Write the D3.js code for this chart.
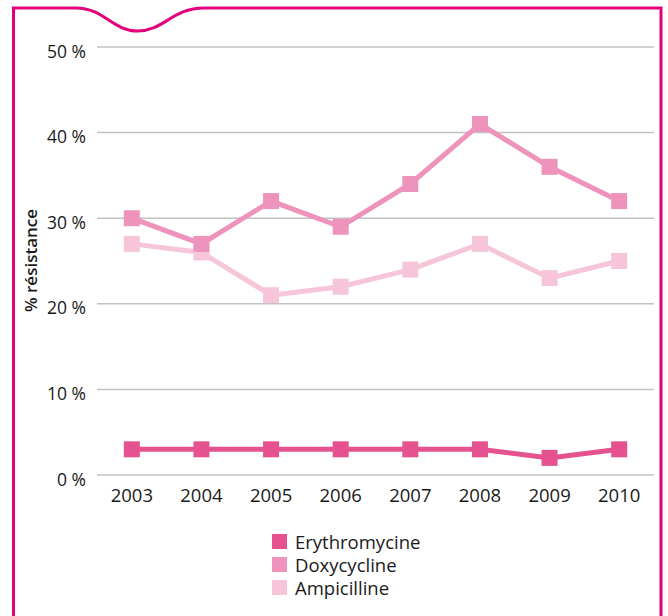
<!DOCTYPE html>
<html>
<head>
<meta charset="utf-8">
<script src="https://cdn.jsdelivr.net/npm/d3@7"></script>
<style>
  html, body { margin: 0; padding: 0; background: #fff; }
  svg { display: block; }
  text { font-family: "Open Sans", "Noto Sans", sans-serif; fill: #1a1a1a; }
</style>
</head>
<body>
<svg id="chart" width="668" height="616"></svg>
<script>
const years = ["2003", "2004", "2005", "2006", "2007", "2008", "2009", "2010"];
const erythromycine = [3, 3, 3, 3, 3, 3, 2, 3];
const doxycycline = [30, 27, 32, 29, 34, 41, 36, 32];
const ampicilline = [27, 26, 21, 22, 24, 27, 23, 25];
const yTicks = [0, 10, 20, 30, 40, 50];
const seriesNames = ["Erythromycine", "Doxycycline", "Ampicilline"];
const seriesColors = ["#e6528f", "#ee93bc", "#f6c5da"];

const series = [
  { name: seriesNames[0], values: erythromycine, color: seriesColors[0] },
  { name: seriesNames[1], values: doxycycline, color: seriesColors[1] },
  { name: seriesNames[2], values: ampicilline, color: seriesColors[2] }
];

const svg = d3.select("#chart");

// Frame with wave
const frame = d3.path();
frame.moveTo(13.5, 616);
frame.lineTo(13.5, 8);
frame.lineTo(76, 8);
frame.bezierCurveTo(104, 8, 112, 31, 138, 31);
frame.bezierCurveTo(164, 31, 172, 8, 204, 8);
frame.lineTo(661, 8);
frame.lineTo(661, 616);
svg.append("path").attr("d", frame.toString())
  .attr("fill", "none").attr("stroke", "#e4007c").attr("stroke-width", 3);

const x = d3.scaleBand().domain(years).range([97, 654]);
const y = d3.scaleLinear().domain([0, 50]).range([475, 47]);

// gridlines
svg.append("g").selectAll("line").data(yTicks).join("line")
  .attr("x1", 97).attr("x2", 654)
  .attr("y1", d => y(d)).attr("y2", d => y(d))
  .attr("stroke", "#c2c2c2").attr("stroke-width", 1.5);

// y tick labels
svg.append("g").selectAll("text").data(yTicks).join("text")
  .attr("x", 86).attr("y", d => y(d) + 10.5)
  .attr("text-anchor", "end")
  .style("font-size", "17.5px")
  .text(d => d + " %");

// x tick labels
svg.append("g").selectAll("text").data(years).join("text")
  .attr("x", d => x(d) + x.bandwidth() / 2).attr("y", 501.5)
  .attr("text-anchor", "middle")
  .style("font-size", "18.5px")
  .text(d => d);

// axis title
svg.append("text")
  .attr("transform", "translate(37,260.5) rotate(-90)")
  .attr("text-anchor", "middle")
  .style("font-size", "17px").style("font-weight", "600")
  .text("% résistance");

const cx = (d, i) => x(years[i]) + x.bandwidth() / 2;
const line = d3.line().x(cx).y(d => y(d));

const drawOrder = [series[2], series[1], series[0]];
drawOrder.forEach(s => {
  const g = svg.append("g");
  g.append("path").attr("d", line(s.values))
    .attr("fill", "none").attr("stroke", s.color).attr("stroke-width", 5);
  g.selectAll("rect").data(s.values).join("rect")
    .attr("x", (d, i) => cx(d, i) - 8).attr("y", d => y(d) - 8)
    .attr("width", 16).attr("height", 16)
    .attr("fill", s.color);
});

// legend
const leg = svg.append("g").selectAll("g").data(series).join("g")
  .attr("transform", (d, i) => `translate(272,${534 + i * 23})`);
leg.append("rect").attr("width", 15).attr("height", 15).attr("fill", d => d.color);
leg.append("text").attr("x", 23).attr("y", 15)
  .style("font-size", "18.5px").text(d => d.name);
</script>
</body>
</html>
